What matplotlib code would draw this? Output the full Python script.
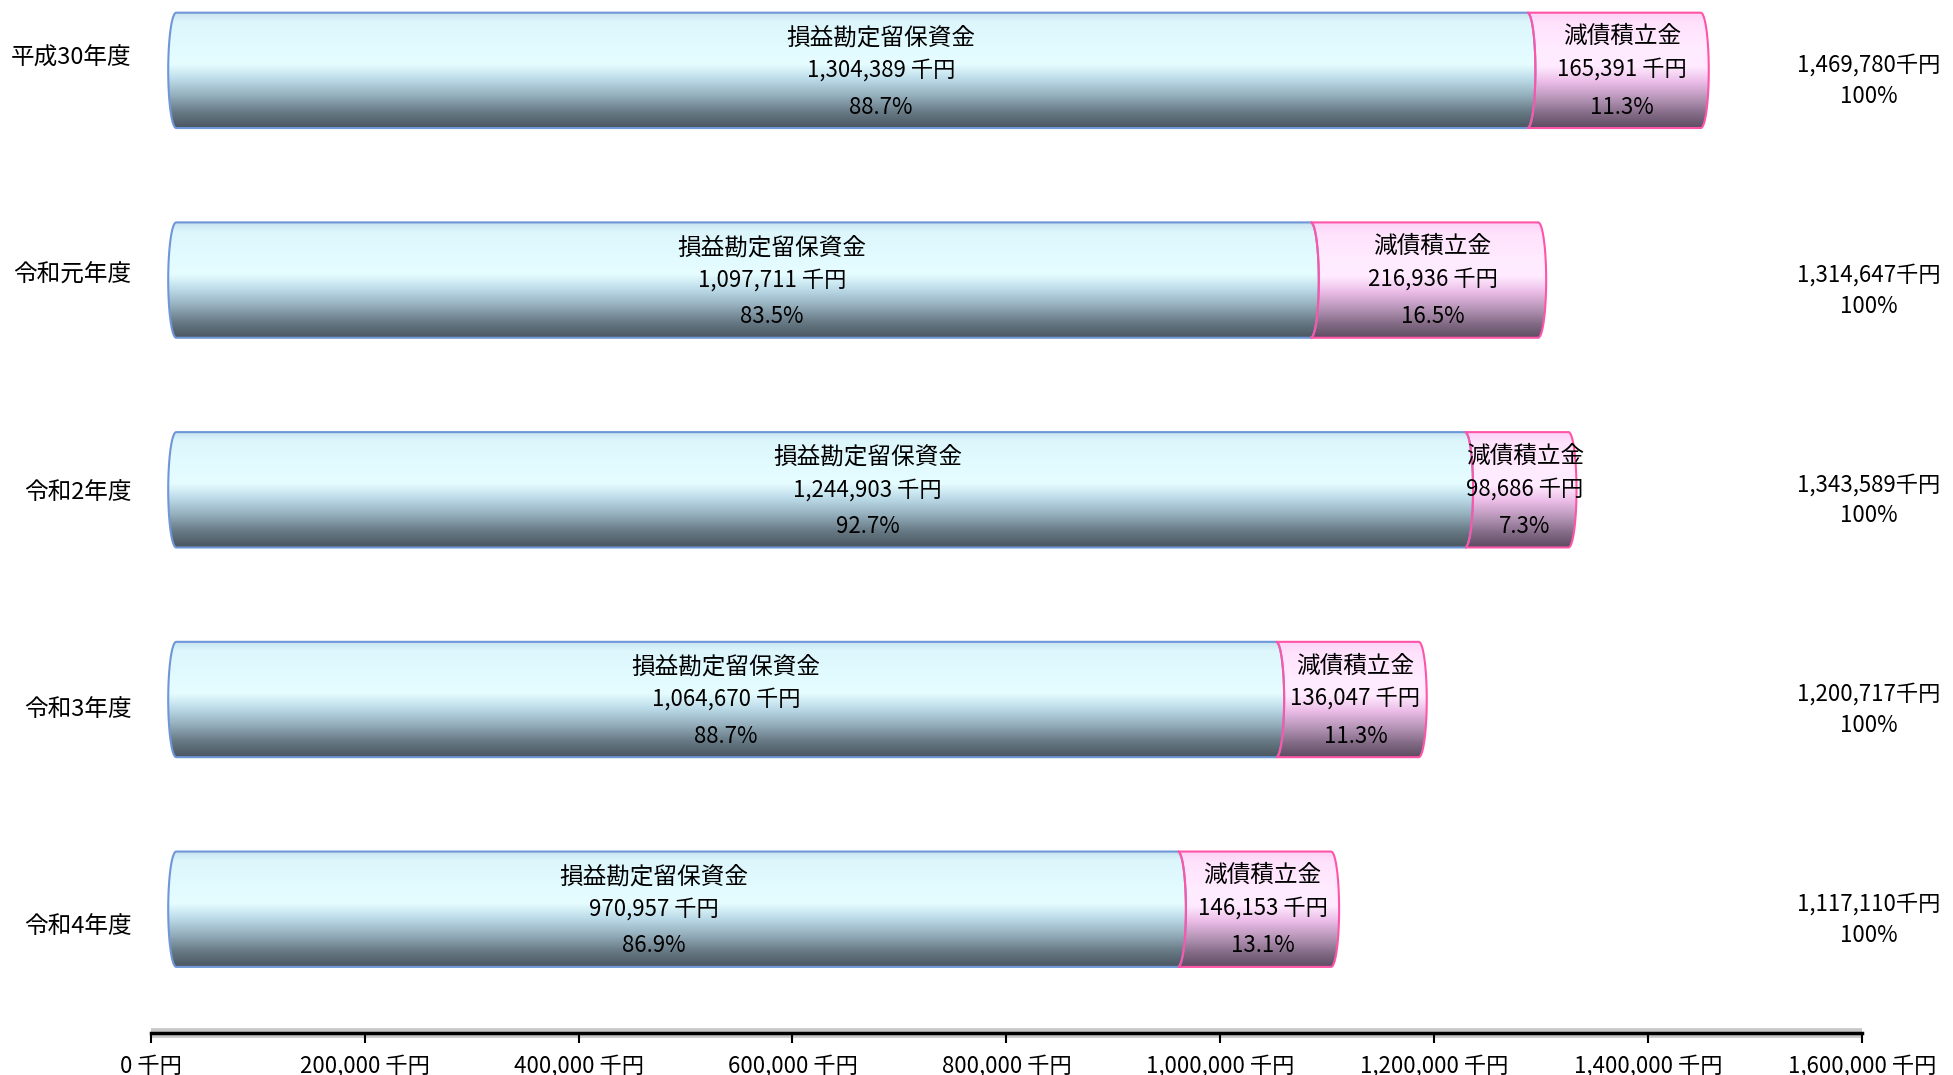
import matplotlib
matplotlib.use('Agg')
import matplotlib.pyplot as plt
import numpy as np
from matplotlib.colors import LinearSegmentedColormap
from matplotlib.patches import PathPatch
from matplotlib.path import Path

plt.rcParams['font.family'] = ['Noto Sans CJK JP', 'DejaVu Sans']

years = ['平成30年度', '令和元年度', '令和2年度', '令和3年度', '令和4年度']
retained = [1304389, 1097711, 1244903, 1064670, 970957]    # 損益勘定留保資金
reserve = [165391, 216936, 98686, 136047, 146153]          # 減債積立金
retained_pct = [88.7, 83.5, 92.7, 88.7, 86.9]
reserve_pct = [11.3, 16.5, 7.3, 11.3, 13.1]
totals = [1469780, 1314647, 1343589, 1200717, 1117110]
xticks = [0, 200000, 400000, 600000, 800000, 1000000, 1200000, 1400000, 1600000]

# labels in the blue part were moved by hand in the original
label_shift = [28000, 27000, 45000, 0, -22000]

blue_cmap = LinearSegmentedColormap.from_list('blue', [
    (0.0, '#c6e2ee'), (0.08, '#dcf6fc'), (0.3, '#e2fbff'), (0.45, '#e6fdff'),
    (0.58, '#bcdbe8'), (0.72, '#95afbd'), (0.86, '#687b86'), (1.0, '#4a5660')])
pink_cmap = LinearSegmentedColormap.from_list('pink', [
    (0.0, '#fcd2f6'), (0.1, '#ffe2fc'), (0.35, '#ffecff'), (0.47, '#ffeaff'),
    (0.6, '#ecbde8'), (0.75, '#b594b6'), (0.88, '#836b86'), (1.0, '#5e4c62')])


def cyl_path(a, b, yc, h, r, left_out):
    # segment of a cylinder: right end always bulges right,
    # left end bulges left for the first segment, otherwise follows the previous one
    th = np.linspace(-np.pi / 2, np.pi / 2, 40)
    ys = yc + h / 2 * np.sin(th)
    if left_out:
        xl = a + r - r * np.cos(th)
    else:
        xl = a - r + r * np.cos(th)
    xr = b - r + r * np.cos(th)
    verts = list(zip(xl[::-1], ys[::-1])) + list(zip(xr, ys))
    verts.append(verts[0])
    codes = [Path.MOVETO] + [Path.LINETO] * (len(verts) - 2) + [Path.CLOSEPOLY]
    return Path(verts, codes)


fig = plt.figure(figsize=(19.53, 10.75), dpi=100)
pos = [0.0772, 0.0395, 0.8762, 0.9605]

# axis with the tick labels
axb = fig.add_axes(pos)
axb.set_xlim(0, 1600000)
axb.set_ylim(4.499, -0.258)
axb.set_xticks(xticks)
axb.set_xticklabels([f'{v:,} 千円' for v in xticks], fontsize=16)
axb.set_yticks(range(len(years)))
axb.set_yticklabels(years, fontsize=17)
axb.tick_params(axis='y', length=0, pad=14)
axb.tick_params(axis='x', length=7, width=1.5, pad=9)
for s in ['top', 'right', 'left']:
    axb.spines[s].set_visible(False)
axb.spines['bottom'].set_linewidth(2.5)
axb.plot([0, 1], [0, 0], transform=axb.transAxes, color='#c8c8c8', lw=7,
         solid_capstyle='butt', clip_on=False, zorder=1)

# bars (3D look: slightly different scale than the axis)
ax = fig.add_axes(pos)
ax.patch.set_alpha(0)
ax.axis('off')
ax.set_xlim(-16635, 1615965)
ax.set_ylim(4.588, -0.3355)
y = np.arange(len(years))
h = 0.55
b1 = ax.barh(y, retained, height=h, color='none', edgecolor='none')
b2 = ax.barh(y, reserve, left=retained, height=h, color='none', edgecolor='none')

r = 7600  # depth of the rounded ends, data units
grad = np.linspace(0, 1, 256).reshape(-1, 1)
for bars, cmap, ec, first in [(b1, blue_cmap, '#6f97d8', True), (b2, pink_cmap, '#ff55a8', False)]:
    for p in bars:
        x0, yb, w, hh = p.get_x(), p.get_y(), p.get_width(), p.get_height()
        path = cyl_path(x0, x0 + w, yb + hh / 2, hh, r, first)
        shape = PathPatch(path, facecolor='none', edgecolor=ec, lw=1.5, zorder=3)
        ax.add_patch(shape)
        im = ax.imshow(grad, cmap=cmap, aspect='auto', origin='upper',
                       extent=(x0 - r, x0 + w + r, yb + hh, yb), zorder=2)
        im.set_clip_path(shape)

ax.set_xlim(-16635, 1615965)
ax.set_ylim(4.588, -0.3355)

for i in range(len(years)):
    bx = retained[i] / 2 + label_shift[i]
    ax.text(bx, i - 0.155, '損益勘定留保資金', ha='center', va='center', fontsize=17, zorder=5)
    ax.text(bx, i, f'{retained[i]:,} 千円', ha='center', va='center', fontsize=16, zorder=5)
    ax.text(bx, i + 0.175, f'{retained_pct[i]}%', ha='center', va='center', fontsize=16, zorder=5)
    px = retained[i] + reserve[i] / 2
    ax.text(px, i - 0.16, '減債積立金', ha='center', va='center', fontsize=17, zorder=5)
    ax.text(px, i - 0.005, f'{reserve[i]:,} 千円', ha='center', va='center', fontsize=16, zorder=5)
    ax.text(px, i + 0.175, f'{reserve_pct[i]}%', ha='center', va='center', fontsize=16, zorder=5)
    ax.text(1622000, i + 0.05, f'{totals[i]:,}千円\n100%', ha='center', va='center',
            fontsize=16, linespacing=1.45, clip_on=False, zorder=5)

fig.savefig('out.png', dpi=100)
